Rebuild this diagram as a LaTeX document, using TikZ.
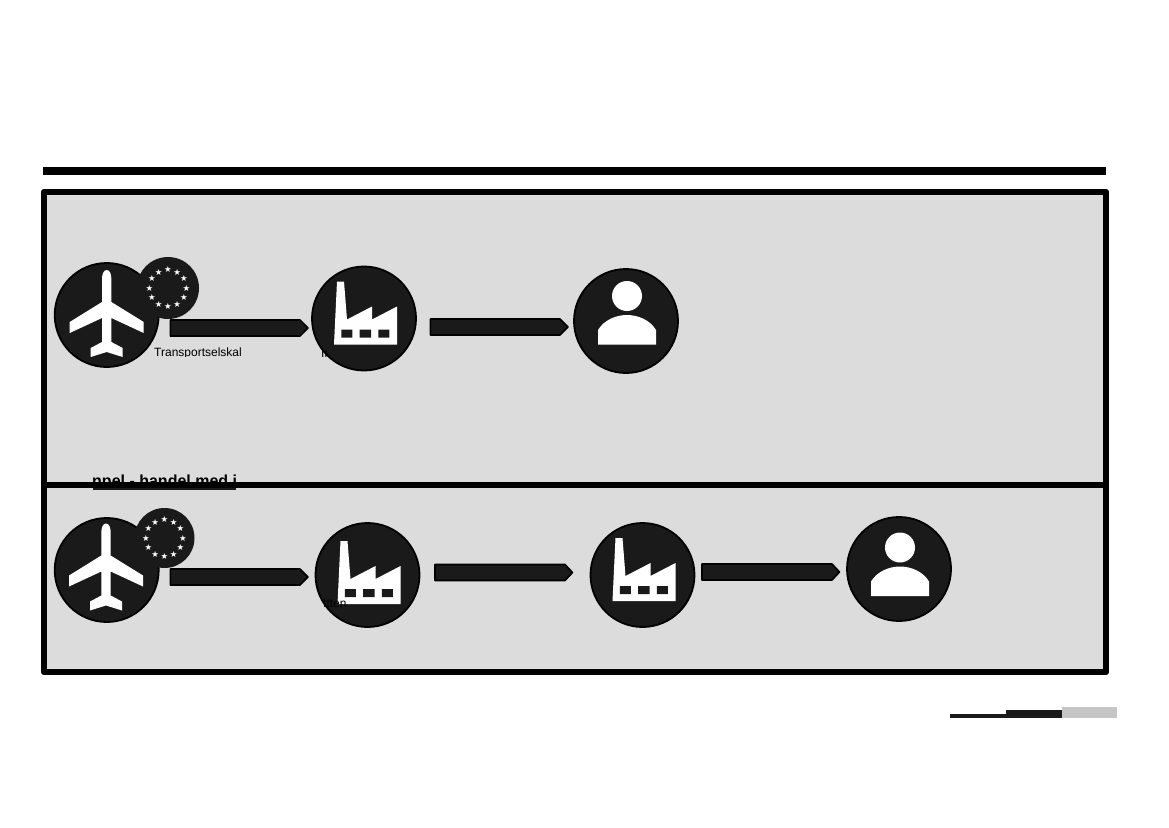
\documentclass[tikz,border=0pt]{standalone}
\usepackage{fontspec}
\setmainfont{Liberation Sans}
\newfontfamily\starfont{DejaVu Sans}
\definecolor{ink}{HTML}{1A1A1A}
\definecolor{panel}{HTML}{DCDCDC}
\definecolor{lightbar}{HTML}{C6C6C6}
\tikzset{
  disc/.style={circle,draw=black,line width=1.8pt,fill=ink,minimum size=104pt,inner sep=0pt},
  eudisc/.style={circle,fill=ink,minimum size=62pt,inner sep=0pt},
  flowarrow/.style={draw=black,line width=1.6pt,fill=ink,line join=round},
  frame/.style={draw=black,line width=6.5pt,line join=round},
  lbl/.style={inner sep=0pt,anchor=base west,font=\fontsize{12}{14}\selectfont},
  pics/plane/.style={code={
    \fill[white] (0,-45) .. controls (3,-45) and (4.7,-41) .. (4.7,-36) -- (4.7,-13) -- (37,7) -- (37,18) -- (4.7,3) -- (4.7,27) -- (16,33) -- (16,42) -- (0,37) -- (-16,42) -- (-16,33) -- (-4.7,27) -- (-4.7,3) -- (-37,18) -- (-37,7) -- (-4.7,-13) -- (-4.7,-36) .. controls (-4.7,-41) and (-3,-45) .. (0,-45) -- cycle;
  }},
  pics/factory/.style={code={
    \fill[white] (-30,26) -- (-27,-37) -- (-20,-37) -- (-17,1) -- (8,-12) -- (8,1) -- (33,-12) -- (33,26) -- cycle;
    \fill[ink] (-22.7,11) rectangle (-11.7,19) (-4.3,11) rectangle (7,19) (14.3,11) rectangle (25.3,19);
  }},
  pics/person/.style={code={
    \fill[white] (1,-25) circle (15);
    \fill[white] (-28,23.5) -- (-28,9) .. controls (-22,-1) and (-10,-6) .. (1,-6) .. controls (12,-6) and (24,-1) .. (30,9) -- (30,23.5) -- cycle;
  }},
  pics/eustars/.style={code={
    \foreach \a in {0,30,...,330}
      \node[white,inner sep=0pt,font=\starfont\fontsize{8.5}{9}\selectfont] at ({18.5*cos(\a)},{18.5*sin(\a)}) {★};
  }},
}
\begin{document}
\begin{tikzpicture}[x=1pt,y=-1pt]
\useasboundingbox (0,0) rectangle (1169,827);
\fill[white] (0,0) rectangle (1169,827);
\fill[panel] (44,192) rectangle (1106,672);
\begin{scope}
  \clip (85,472) rectangle (236,492);
  \node[inner sep=0pt,anchor=base west,font=\bfseries\fontsize{16}{18}\selectfont] at (92,486.5) {npel - handel med i};
\end{scope}
\fill[ink] (93,488) rectangle (236,490);
\begin{scope}
  \clip (150,344) rectangle (241,356.5);
  \node[lbl] at (154,356.5) {Transportselskal};
\end{scope}
\draw[frame] (44,192) rectangle (1106,672);
\draw[frame] (44,485) -- (1106,485);
\fill[black] (43,167) rectangle (1106,175);
% row 1
\node[disc] (p1) at (106.7,315) {};
\node[eudisc] (e1) at (168,288) {};
\node[disc] (f1) at (364,318.5) {};
\node[disc] (u1) at (626,321) {};
\pic at (p1) {plane};
\pic at (e1) {eustars};
\pic at (f1) {factory};
\pic at (u1) {person};
\begin{scope}
  \clip (319,350) rectangle (326,358);
  \node[lbl] at (321,357) {Ir};
\end{scope}
\draw[flowarrow] (170.3,320) -- (300,320) -- (308,328) -- (300,336) -- (170.3,336) -- cycle;
\draw[flowarrow] (430.3,319) -- (560,319) -- (568,327) -- (560,335) -- (430.3,335) -- cycle;
% row 2
\node[disc] (p2) at (106.7,570) {};
\node[eudisc,minimum size=60pt] (e2) at (164.5,538) {};
\node[disc] (f2) at (367.5,575) {};
\node[disc] (f3) at (642.5,575) {};
\node[disc] (u2) at (899,569) {};
\pic[shift={(-0.7,-1.5)}] at (p2) {plane};
\pic at (e2) {eustars};
\pic[shift={(0,3)}] at (f2) {factory};
\pic at (f3) {factory};
\pic[shift={(0,3.5)}] at (u2) {person};
\node[lbl] at (323,607) {Itten};
\draw[flowarrow] (170.3,569) -- (300,569) -- (308,577) -- (300,585) -- (170.3,585) -- cycle;
\draw[flowarrow] (435,564.5) -- (565,564.5) -- (572.5,572.5) -- (565,580.5) -- (435,580.5) -- cycle;
\draw[flowarrow] (702,564) -- (832,564) -- (839.5,572) -- (832,580) -- (702,580) -- cycle;
% scale bar
\fill[ink] (950,714) rectangle (1006,717.5);
\fill[ink] (1006,710) rectangle (1062,717.5);
\fill[lightbar] (1062,707) rectangle (1117,717.5);
\end{tikzpicture}
\end{document}
